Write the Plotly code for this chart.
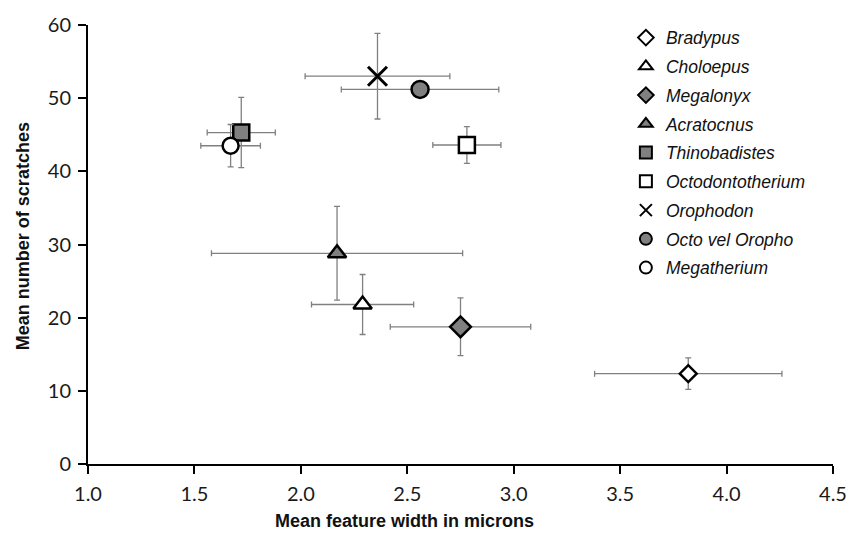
import plotly.graph_objects as go

# ---- data ----
taxa = ["Bradypus", "Choloepus", "Megalonyx", "Acratocnus", "Thinobadistes",
        "Octodontotherium", "Orophodon", "Octo vel Oropho", "Megatherium"]
feature_width = [3.82, 2.29, 2.75, 2.17, 1.72, 2.78, 2.36, 2.56, 1.67]
width_err = [0.44, 0.24, 0.33, 0.59, 0.16, 0.16, 0.34, 0.37, 0.14]
scratches = [12.35, 21.8, 18.75, 28.8, 45.3, 43.6, 53.0, 51.2, 43.5]
scratch_err = [2.15, 4.1, 3.95, 6.4, 4.8, 2.5, 5.85, 0.9, 2.9]

x_ticks = [1.0, 1.5, 2.0, 2.5, 3.0, 3.5, 4.0, 4.5]
y_ticks = [0, 10, 20, 30, 40, 50, 60]

# ---- styles ----
GRAY = "#808080"
styles = [
    dict(symbol="diamond", size=13, color="white"),
    dict(symbol="triangle-up", size=16, color="white"),
    dict(symbol="diamond", size=16, color=GRAY),
    dict(symbol="triangle-up", size=16, color=GRAY),
    dict(symbol="square", size=16, color=GRAY),
    dict(symbol="square", size=16, color="white"),
    dict(symbol="x-thin", size=19, color="black"),
    dict(symbol="circle", size=17, color=GRAY),
    dict(symbol="circle", size=16, color="white"),
]

fig = go.Figure()
for i, name in enumerate(taxa):
    st = styles[i]
    fig.add_trace(go.Scatter(
        x=[feature_width[i]], y=[scratches[i]],
        mode="markers",
        name="<i>" + name + "</i>",
        legendgroup=name,
        marker=dict(symbol=st["symbol"], size=st["size"], color=st["color"],
                    line=dict(color="black", width=3 if st["symbol"] == "x-thin" else 2.5)),
        error_x=dict(type="data", array=[width_err[i]], color=GRAY, thickness=1.3, width=3),
        error_y=dict(type="data", array=[scratch_err[i]], color=GRAY, thickness=1.3, width=3),
    ))

axis_common = dict(
    showgrid=False, zeroline=False, showline=True, linecolor="black", linewidth=2,
    ticks="outside", ticklen=8, tickwidth=2, tickcolor="black", ticklabelstandoff=3,
    tickfont=dict(family="Lato", size=20, color="#1a1a1a"),
)

fig.update_layout(
    width=862, height=534,
    margin=dict(l=88, r=29, t=17, b=70),
    plot_bgcolor="white", paper_bgcolor="white",
    showlegend=True,
    legend=dict(
        x=0.722, y=1.012, xanchor="left", yanchor="top",
        font=dict(family="Liberation Sans", size=17.5, color="#111"),
        itemsizing="constant", tracegroupgap=3, bgcolor="rgba(0,0,0,0)",
    ),
    xaxis=dict(range=[1.0, 4.5], tickvals=x_ticks, ticktext=[f"{v:.1f}" for v in x_ticks],
               **axis_common),
    yaxis=dict(range=[0, 60], tickvals=y_ticks, **axis_common),
    annotations=[
        dict(text="<b>Mean feature width in microns</b>", xref="paper", yref="paper",
             x=0.425, y=-0.13, xanchor="center", yanchor="middle", showarrow=False,
             font=dict(family="Liberation Sans", size=18, color="#111")),
        dict(text="<b>Mean number of scratches</b>", xref="paper", yref="paper",
             x=-0.088, y=0.52, xanchor="center", yanchor="middle", showarrow=False,
             textangle=-90, font=dict(family="Liberation Sans", size=18, color="#111")),
    ],
)

fig.write_html("out.html", config={"displayModeBar": False},
               post_script="document.body.style.margin='0';document.body.style.overflow='hidden';")
